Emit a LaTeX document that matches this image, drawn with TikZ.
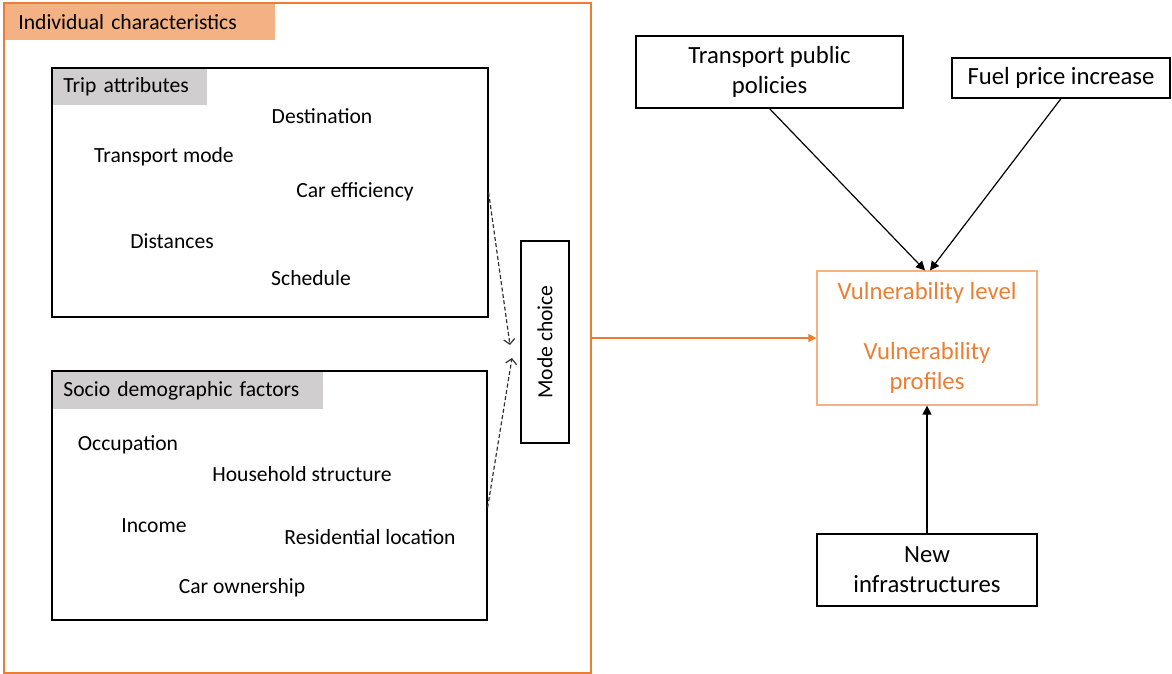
\documentclass[tikz,border=0pt]{standalone}
\usepackage{fontspec}
\setmainfont{Carlito}
\usetikzlibrary{arrows.meta}
\definecolor{frameorange}{HTML}{ED7D31}
\definecolor{headorange}{HTML}{F4B183}
\definecolor{headgray}{HTML}{D0CECE}
\newcommand{\bigtxt}{\fontsize{12.35}{15}\selectfont}
\newcommand{\smalltxt}{\fontsize{10.8}{13}\selectfont}

\begin{document}
\begin{tikzpicture}[x=0.5pt,y=-0.5pt,
  box/.style={draw, line width=0.6pt, inner sep=0pt, font=\bigtxt, align=center},
  item/.style={font=\smalltxt, inner sep=0pt},
  head/.style={anchor=north west, inner sep=0pt, inner xsep=5.5pt, minimum height=18.5pt, font=\smalltxt, align=left},
  arr/.style={-{Triangle[length=4.5pt,width=4.5pt]}, line width=0.6pt},
  dasharr/.style={-{Straight Barb[length=2.5pt,width=5.5pt]}, dash pattern=on 2pt off 1.2pt, line width=0.6pt, draw=black!80}]
\useasboundingbox (0,0) rectangle (1172,674);

% left part: individual characteristics
\node (indivhead) at (4,3) [head, fill=headorange, inner xsep=7pt, text width=121.5pt] {Individual characteristics};
\node (frame) at (297.5,338) [draw=frameorange, line width=0.6pt, minimum width=293.5pt, minimum height=335pt] {};

\node (triphead) at (52,68) [head, fill=headgray, text width=66.5pt] {Trip attributes};
\node (trip) at (270,192.5) [box, minimum width=218pt, minimum height=124.5pt] {};
\node (dest) at (322,116) [item] {Destination};
\node (mode1) at (164,157) [item] {Transport mode};
\node (eff) at (355,192) [item] {Car efficiency};
\node (dist) at (172,241) [item] {Distances};
\node (sched) at (311,278) [item] {Schedule};

\node (sociohead) at (52,371) [head, fill=headgray, minimum height=19pt, text width=124.5pt] {Socio demographic factors};
\node (socio) at (269.5,495.5) [box, minimum width=217.5pt, minimum height=124.5pt] {};
\node (occ) at (128,445) [item] {Occupation};
\node (house) at (302,474) [item] {Household structure};
\node (inc) at (154,526) [item] {Income};
\node (resid) at (370,537) [item] {Residential location};
\node (car) at (242,588) [item] {Car ownership};

\node (mode) at (545,342) [box, font=\smalltxt, rotate=90, minimum width=101pt, minimum height=24pt] {Mode choice};
\coordinate (tipa) at (510,345);
\coordinate (tipb) at (512,358);

% right part
\node (vuln) at (927,338) [box, draw=headorange, text=frameorange, minimum width=110pt, minimum height=67pt] {Vulnerability level\\[15pt]Vulnerability\\profiles};
\node (policy) at (769.5,72) [box, minimum width=133.5pt, minimum height=36pt] {Transport public\\policies};
\node (fuel) at (1061,78) [box, minimum width=109pt, minimum height=20pt] {Fuel price increase};
\node (infra) at (927,570) [box, minimum width=110pt, minimum height=36pt] {New\\infrastructures};

\draw[dasharr] (trip.east) to (tipa);
\draw[dasharr] ([yshift=-6pt]socio.east) to (tipb);

\draw[arr, draw=frameorange, -{Triangle[length=4pt,width=4pt]}] (frame.east) to (vuln.west);

\draw[arr] (policy.south) to ([xshift=-1pt]vuln.north);
\draw[arr] (fuel.south) to ([xshift=1.5pt]vuln.north);
\draw[arr] (infra.north) to (vuln.south);
\end{tikzpicture}
\end{document}
